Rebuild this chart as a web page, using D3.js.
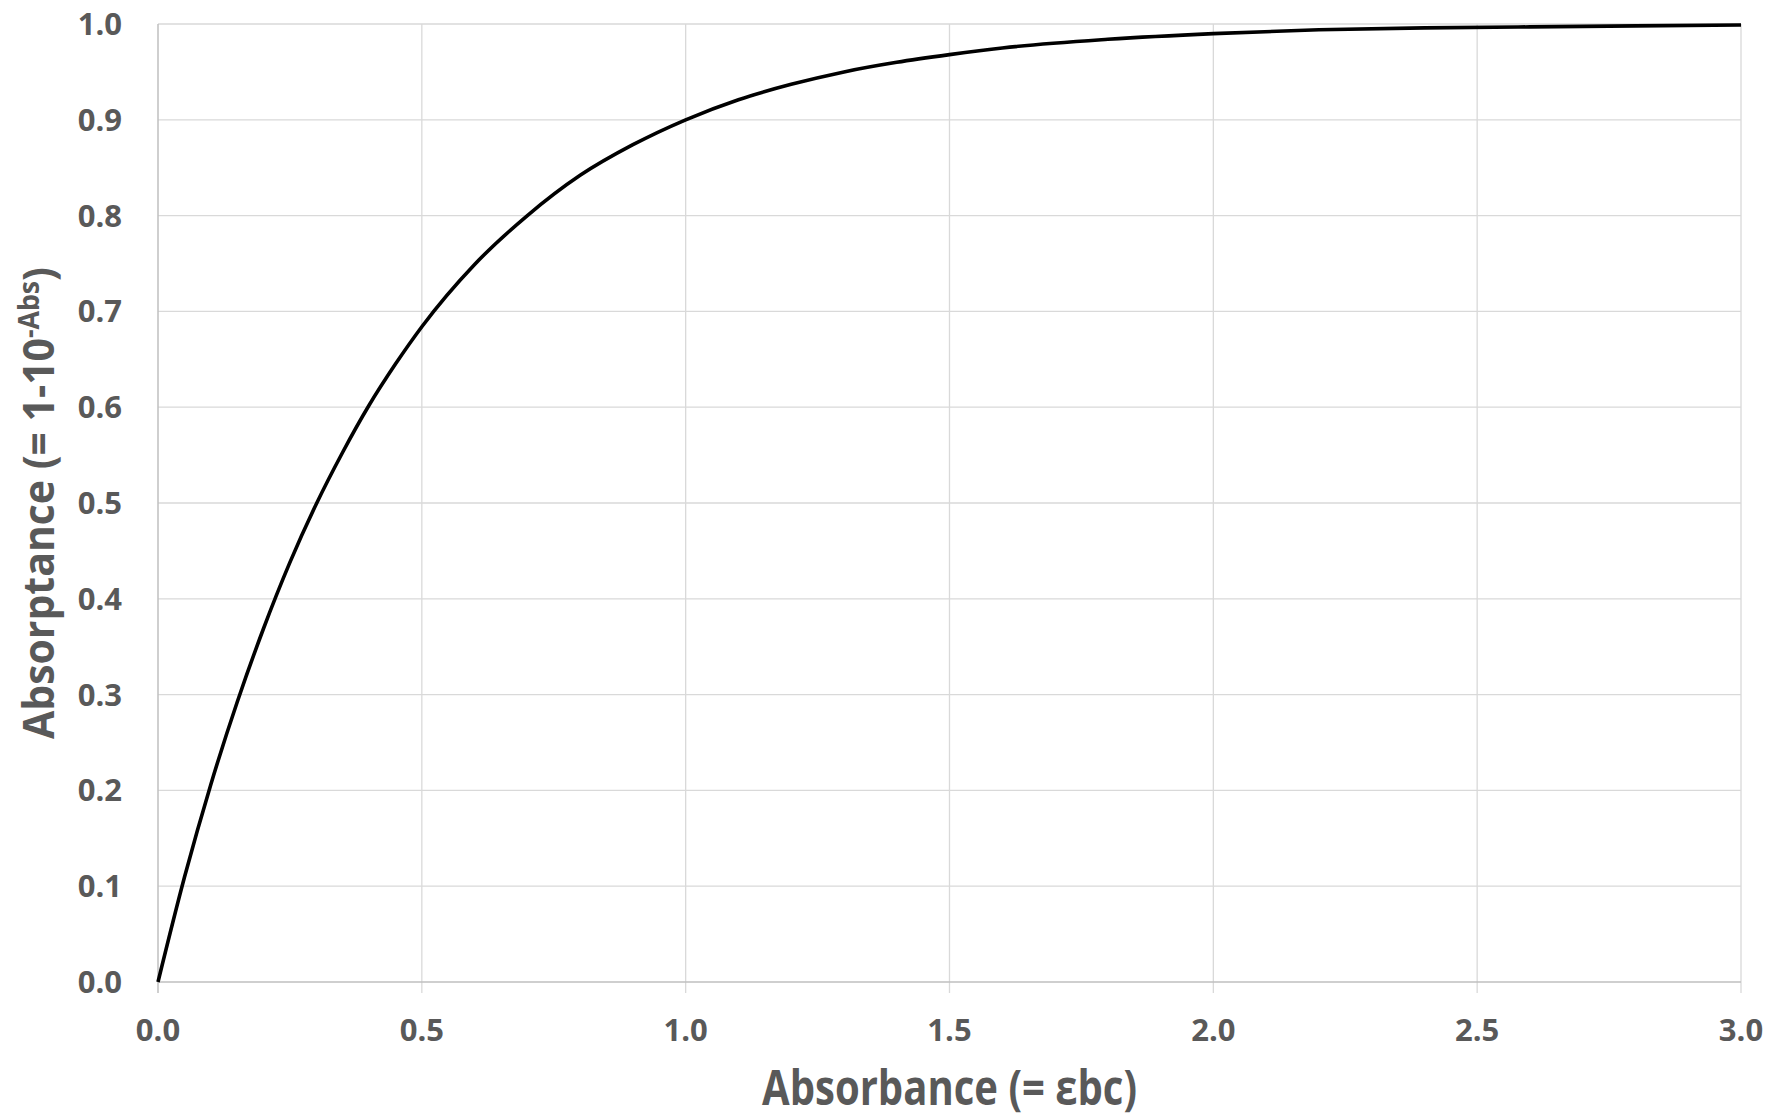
<!DOCTYPE html>
<html>
<head>
<meta charset="utf-8">
<title>Absorptance vs Absorbance</title>
<script src="https://cdn.jsdelivr.net/npm/d3@7"></script>
<style>
  body { margin: 0; background: #fff; }
  text { font-family: "Open Sans", sans-serif; font-weight: bold; fill: #595959; }
</style>
</head>
<body>
<svg id="chart" width="1776" height="1118"></svg>
<script>
// absorbance values read along the x axis
var absorbance = [0, 0.05, 0.1, 0.15, 0.2, 0.25, 0.3, 0.35, 0.4, 0.45, 0.5, 0.6, 0.7, 0.8, 0.9,
                  1.0, 1.1, 1.2, 1.3, 1.4, 1.5, 1.6, 1.8, 2.0, 2.2, 2.4, 2.6, 2.8, 3.0];
// absorptance
var absorptance = [0, 0.109, 0.206, 0.292, 0.369, 0.438, 0.499, 0.553, 0.602, 0.645, 0.684, 0.749, 0.800, 0.842, 0.874,
                   0.900, 0.921, 0.937, 0.950, 0.960, 0.968, 0.975, 0.984, 0.990, 0.994, 0.996, 0.997, 0.998, 0.999];
var xTicks = [0, 0.5, 1.0, 1.5, 2.0, 2.5, 3.0];
var yTicks = [0, 0.1, 0.2, 0.3, 0.4, 0.5, 0.6, 0.7, 0.8, 0.9, 1.0];

var margin = {top: 24, right: 35, bottom: 136, left: 158};
var W = 1776, H = 1118;
var w = W - margin.left - margin.right, h = H - margin.top - margin.bottom;

var svg = d3.select("#chart");
var g = svg.append("g").attr("transform", "translate(" + margin.left + "," + margin.top + ")");

var x = d3.scaleLinear().domain([0, 3]).range([0, w]);
var y = d3.scaleLinear().domain([0, 1]).range([h, 0]);

// horizontal gridlines
g.selectAll(".hgrid").data(yTicks.slice(1)).enter().append("line")
  .attr("x1", 0).attr("x2", w)
  .attr("y1", function(d) { return y(d); }).attr("y2", function(d) { return y(d); })
  .attr("stroke", "#d9d9d9").attr("stroke-width", 1.3);

// vertical gridlines, running down as tick marks
g.selectAll(".vgrid").data(xTicks.slice(1)).enter().append("line")
  .attr("x1", function(d) { return x(d); }).attr("x2", function(d) { return x(d); })
  .attr("y1", 0).attr("y2", h + 11)
  .attr("stroke", "#d9d9d9").attr("stroke-width", 1.3);

// axis lines
g.append("line").attr("x1", 0).attr("x2", w).attr("y1", h).attr("y2", h)
  .attr("stroke", "#bfbfbf").attr("stroke-width", 1.5);
g.append("line").attr("x1", 0).attr("x2", 0).attr("y1", 0).attr("y2", h + 11)
  .attr("stroke", "#bfbfbf").attr("stroke-width", 1.5);

// tick labels
g.selectAll(".ylab").data(yTicks).enter().append("text")
  .attr("x", -36).attr("y", function(d) { return y(d) + 11; })
  .attr("text-anchor", "end").attr("font-size", 31)
  .text(function(d) { return d3.format(".1f")(d); });

g.selectAll(".xlab").data(xTicks).enter().append("text")
  .attr("x", function(d) { return x(d); }).attr("y", h + 59)
  .attr("text-anchor", "middle").attr("font-size", 31)
  .text(function(d) { return d3.format(".1f")(d); });

// the curve
var pts = absorbance.map(function(a, i) { return [a, absorptance[i]]; });
g.append("path").datum(pts)
  .attr("fill", "none").attr("stroke", "#000").attr("stroke-width", 3.6)
  .attr("d", d3.line().x(function(d) { return x(d[0]); }).y(function(d) { return y(d[1]); }).curve(d3.curveMonotoneX));

// axis titles
svg.append("text")
  .attr("x", margin.left + w / 2).attr("y", 1105)
  .attr("text-anchor", "middle").attr("font-size", 48)
  .attr("textLength", 375).attr("lengthAdjust", "spacingAndGlyphs")
  .text("Absorbance (= εbc)");

var yt = svg.append("text")
  .attr("transform", "translate(54," + (margin.top + h / 2) + ") rotate(-90)")
  .attr("text-anchor", "middle").attr("font-size", 43)
  .attr("textLength", 472).attr("lengthAdjust", "spacingAndGlyphs");
yt.append("tspan").text("Absorptance (= 1-10");
yt.append("tspan").attr("font-size", 28).attr("dy", -15).text("-Abs");
yt.append("tspan").attr("dy", 15).text(")");
</script>
</body>
</html>
